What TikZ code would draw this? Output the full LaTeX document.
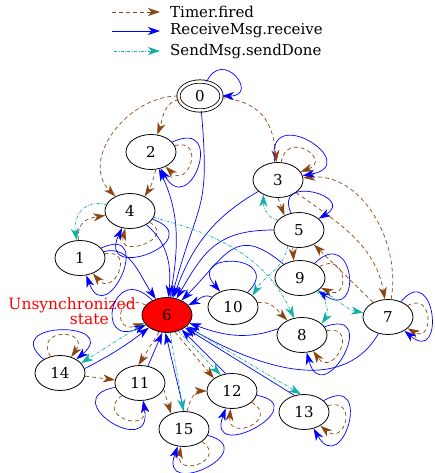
\documentclass[tikz,border=0pt]{standalone}
\usepackage{fontspec}
\setmainfont{DejaVu Serif}
\usetikzlibrary{arrows.meta,shapes.geometric}
\definecolor{tbrown}{RGB}{139,69,19}
\definecolor{scyan}{RGB}{20,175,170}

\begin{document}
\begin{tikzpicture}[x=1pt,y=-1pt,>={Stealth[length=12pt,width=8pt,inset=3.5pt]},
  state/.style={ellipse, draw=black, line width=0.8pt, minimum width=50pt, minimum height=35pt, inner sep=0pt, font=\fontsize{15}{17}\selectfont},
  timer/.style={->, draw=tbrown, line width=0.7pt, dash pattern=on 4pt off 3pt},
  recv/.style={->, draw=blue, line width=0.7pt},
  sent/.style={->, draw=scyan, line width=0.7pt, dash pattern=on 3pt off 1.5pt on 0.7pt off 1.5pt},
  keytext/.style={anchor=west, inner sep=0pt, font=\fontsize{15}{18}\selectfont}]

\useasboundingbox (0,0) rectangle (434,473);

% legend
\coordinate (k1a) at (112,12); \coordinate (k1b) at (160,12);
\coordinate (k2a) at (112,31); \coordinate (k2b) at (160,31);
\coordinate (k3a) at (114,51); \coordinate (k3b) at (160,51);
\draw[timer] (k1a) -- (k1b);
\draw[recv] (k2a) -- (k2b);
\draw[sent] (k3a) -- (k3b);
\node[keytext] (ktimer) at (170,12) {Timer.fired};
\node[keytext] (krecv) at (170,31) {ReceiveMsg.receive};
\node[keytext] (ksent) at (170,51) {SendMsg.sendDone};

% states
\node[state, double, double distance=2.5pt, minimum width=43pt, minimum height=29pt] (n0) at (200,96) {0};
\node[state] (n2) at (151,152) {2};
\node[state] (n3) at (278,180) {3};
\node[state] (n4) at (130,211) {4};
\node[state] (n5) at (299,230) {5};
\node[state] (n1) at (80,258) {1};
\node[state] (n9) at (300,278) {9};
\node[state, fill=red] (n6) at (167,315) {6};
\node[state] (n10) at (233,307) {10};
\node[state] (n7) at (388,317) {7};
\node[state] (n8) at (302,335) {8};
\node[state] (n14) at (60,373) {14};
\node[state] (n11) at (140,383) {11};
\node[state] (n12) at (232,391) {12};
\node[state] (n13) at (304,412) {13};
\node[state] (n15) at (184,429) {15};
\node[text=red, align=right, anchor=east, inner sep=0pt, font=\fontsize{15.5}{13}\selectfont] (unsync) at (136,311) {Unsynchronized\\state\kern27pt};

% Timer.fired
\draw[timer] (n0) to[out=190, in=70] (n2);
\draw[timer] (n0) to[out=180, in=135, looseness=1.1] (n4);
\draw[timer] (n0) to[out=-5, in=95, looseness=1.2] (n3);
\draw[timer] (n2.-75) to[bend left=10] (n4.45);
\draw[timer] (n1) to[out=95, in=190, looseness=1.3] (n4);
\draw[timer] (n3.-90) -- (n5.135);
\draw[timer] (n3) to[out=-35, in=100] (n7);
\draw[timer] (n7) to[out=80, in=5] (n3);
\draw[timer] (n7) -- (n5);
\draw[timer] (n5.-110) -- (n9.110);
\draw[timer] (n10) to[out=10, in=135] (n8);
\draw[timer] (n6.-115) -- (n11.95);
\draw[timer] (n14) -- (n11);
\draw[timer] (n11.-15) -- (n15.130);
\draw[timer] (n15) to[out=80, in=180] (n12);
\draw[timer] (n6.-65) -- (n12.145);
% Timer.fired loops
\draw[timer] (n2) to[out=15, in=-45, min distance=32pt] (n2);
\draw[timer] (n4) to[out=-30, in=-105, min distance=32pt] (n4);
\draw[timer] (n1) to[out=10, in=-50, min distance=32pt] (n1);
\draw[timer] (n3) to[out=80, in=20, min distance=34pt] (n3);
\draw[timer] (n9) to[out=30, in=-25, min distance=32pt] (n9);
\draw[timer] (n8) to[out=10, in=-55, min distance=34pt] (n8);
\draw[timer] (n7) to[out=30, in=-30, min distance=30pt] (n7);
\draw[timer] (n6) to[out=155, in=-160, min distance=34pt] (n6);
\draw[timer] (n14) to[out=120, in=55, min distance=34pt] (n14);
\draw[timer] (n11) to[out=-145, in=-80, min distance=34pt] (n11);
\draw[timer] (n12) to[out=-30, in=-95, min distance=34pt] (n12);
\draw[timer] (n13) to[out=15, in=-40, min distance=32pt] (n13);
\draw[timer] (n15) to[out=-35, in=-100, min distance=32pt] (n15);

% ReceiveMsg.receive
\draw[recv] (n0) to[out=-85, in=75, looseness=1.4] (n6);
\draw[recv] (n6) to[out=80, in=-65] (n2);
\draw[recv] (n4) to[out=-40, in=85] (n6);
\draw[recv] (n1) to[out=15, in=125] (n6);
\draw[recv] (n3) to[out=-150, in=70] (n6);
\draw[recv] (n5) to[out=180, in=60, looseness=1.2] (n6);
\draw[recv] (n9) to[out=140, in=45, looseness=1.5] (n6);
\draw[recv] (n10) to[out=155, in=25] (n6);
\draw[recv] (n8.165) to[out=200, in=-20] (n6);
\draw[recv] (n7) to[out=-120, in=-30] (n6);
\draw[recv] (n13.120) -- (n6.-35);
\draw[recv] (n12.110) -- (n6.-45);
\draw[recv] (n15.90) -- (n6.-95);
\draw[recv] (n11.65) -- (n6.-105);
\draw[recv] (n14.10) to[bend right=5] (n6.-145);
% ReceiveMsg.receive loops
\draw[recv] (n0) to[out=65, in=0, min distance=38pt] (n0);
\draw[recv] (n2) to[out=25, in=-60, min distance=60pt] (n2);
\draw[recv] (n4) to[out=-20, in=-115, min distance=62pt] (n4);
\draw[recv] (n1) to[out=25, in=-70, min distance=60pt] (n1);
\draw[recv] (n3) to[out=100, in=10, min distance=64pt] (n3);
\draw[recv] (n5) to[out=115, in=30, min distance=44pt] (n5);
\draw[recv] (n10) to[out=45, in=130, min distance=54pt] (n10);
\draw[recv] (n9) to[out=45, in=-35, min distance=56pt] (n9);
\draw[recv] (n8) to[out=20, in=-75, min distance=62pt] (n8);
\draw[recv] (n7) to[out=50, in=-40, min distance=54pt] (n7);
\draw[recv] (n6) to[out=135, in=-155, min distance=58pt] (n6);
\draw[recv] (n14) to[out=140, in=40, min distance=60pt] (n14);
\draw[recv] (n11) to[out=-170, in=-80, min distance=62pt] (n11);
\draw[recv] (n12) to[out=-10, in=-110, min distance=60pt] (n12);
\draw[recv] (n13) to[out=30, in=-60, min distance=58pt] (n13);
\draw[recv] (n15) to[out=-15, in=-110, min distance=58pt] (n15);

% SendMsg.sendDone
\draw[sent] (n4) to[out=165, in=100, looseness=1.3] (n1);
\draw[sent] (n4) to[out=-15, in=115] (n8);
\draw[sent] (n5.155) to[out=170, in=-90] (n3.-135);
\draw[sent] (n5.-125) to[out=-100, in=60] (n10.30);
\draw[sent] (n9.-35) to[out=-15, in=170] (n7);
\draw[sent] (n9.-40) to[out=-30, in=55] (n8.30);
\draw[sent] (n6.-160) -- (n14.25);
\draw[sent] (n6.-80) -- (n15.92);
\draw[sent] (n6.-55) -- (n12.125);
\draw[sent] (n6.-30) -- (n13.100);

\end{tikzpicture}
\end{document}
